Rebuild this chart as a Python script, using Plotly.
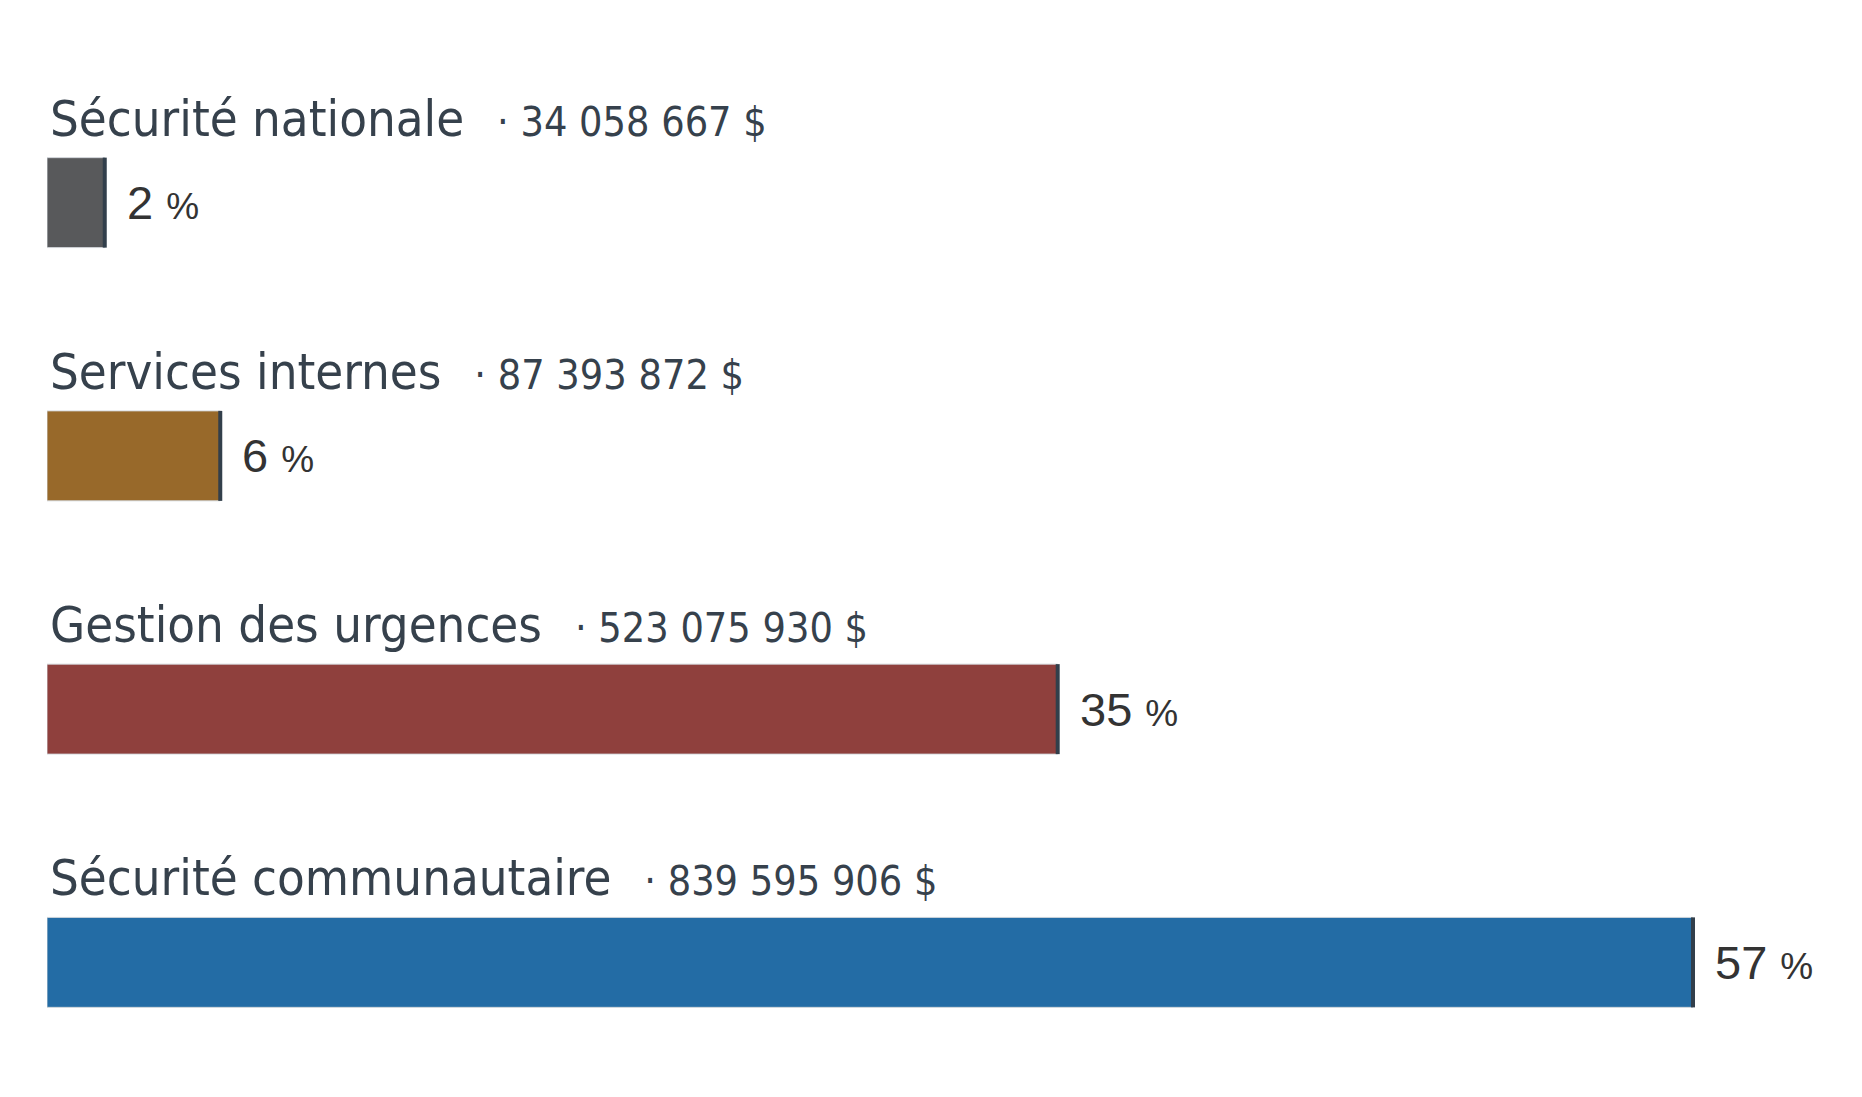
import plotly.graph_objects as go

# Données
categories = ["Sécurité nationale", "Services internes", "Gestion des urgences", "Sécurité communautaire"]
montants = ["34 058 667 $", "87 393 872 $", "523 075 930 $", "839 595 906 $"]
pourcentages = [2, 6, 35, 57]
couleurs = ["#58595b", "#98692a", "#8f403d", "#236ca5"]

TITLE_FONT = "DejaVu Sans Condensed, DejaVu Sans, sans-serif"
PCT_FONT = "Liberation Sans, Arial, sans-serif"
TXT = "#36414c"
EDGE = "#323f4b"
BAR_PX = 90

fig = go.Figure()

fig.add_trace(go.Bar(
    x=pourcentages,
    y=categories,
    orientation="h",
    marker=dict(color=couleurs, line=dict(color="rgba(210,214,218,0.9)", width=1)),
    hoverinfo="skip",
    showlegend=False,
))

# trait foncé au bout de chaque barre
fig.add_trace(go.Scatter(
    x=pourcentages,
    y=categories,
    mode="markers",
    marker=dict(symbol="line-ns", size=BAR_PX / 1.4, line=dict(color=EDGE, width=4)),
    hoverinfo="skip",
    showlegend=False,
    cliponaxis=False,
))

for cat, mnt, pct in zip(categories, montants, pourcentages):
    # titre + montant
    fig.add_annotation(
        x=0, y=cat, xref="x", yref="y",
        xanchor="left", yanchor="bottom",
        xshift=1, yshift=BAR_PX / 2 + 8,
        text=f"{cat} <span style='font-size:41px'>\u2002·\u00a0{mnt}</span>",
        showarrow=False,
        font=dict(family=TITLE_FONT, size=50.5, color=TXT),
    )
    # pourcentage
    fig.add_annotation(
        x=pct, y=cat, xref="x", yref="y",
        xanchor="left", yanchor="middle",
        xshift=20, yshift=0,
        text=f"{pct} <span style='font-size:37px'>%</span>",
        showarrow=False,
        font=dict(family=PCT_FONT, size=47, color="#333333"),
    )

# la page ajoute une marge de 8 px autour de la figure
fig.update_layout(
    width=1846,
    height=1081,
    margin=dict(l=39, r=161, t=68, b=0),
    paper_bgcolor="white",
    plot_bgcolor="white",
    bargap=0.645,
    xaxis=dict(range=[0, 57], visible=False, fixedrange=True),
    yaxis=dict(autorange="reversed", visible=False, fixedrange=True,
               categoryorder="array", categoryarray=categories),
)

fig.write_html("out.html")
